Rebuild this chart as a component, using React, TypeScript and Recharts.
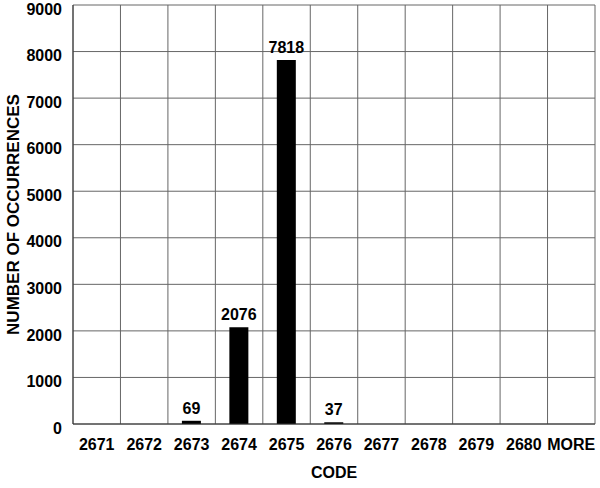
import { BarChart, Bar, XAxis, YAxis, CartesianGrid, LabelList } from 'recharts'

const codes = ['2671', '2672', '2673', '2674', '2675', '2676', '2677', '2678', '2679', '2680', 'MORE']
const counts = [0, 0, 69, 2076, 7818, 37, 0, 0, 0, 0, 0]
const yTicks = [0, 1000, 2000, 3000, 4000, 5000, 6000, 7000, 8000, 9000]

const data = codes.map((code, i) => ({ code, count: counts[i] }))

const font = '"Liberation Sans", Arial, sans-serif'
const gridColor = '#666'
const axisColor = '#333'
const txt = { fill: '#000', fontSize: 16, fontWeight: 'bold', fontFamily: font }

export default function App() {
  return (
    <div style={{ position: 'absolute', left: 0, top: 0, width: 600, height: 488, background: '#fff' }}>
      <BarChart width={600} height={488} data={data} margin={{ top: 5, right: 5, bottom: 10, left: 0 }}>
        <CartesianGrid
          stroke={gridColor}
          strokeWidth={1}
          verticalCoordinatesGenerator={({ offset }: any) =>
            codes.map((_, i) => offset.left + (i * offset.width) / codes.length).concat(offset.left + offset.width)
          }
        />
        <XAxis
          dataKey="code"
          tickLine={false}
          axisLine={{ stroke: axisColor }}
          tickSize={0}
          tickMargin={15}
          height={54}
          fontSize={16}
          fontWeight="bold"
          fontFamily={font}
          tick={txt}
          label={{ value: 'CODE', position: 'insideBottom', offset: 0, ...txt }}
          interval={0}
        />
        <YAxis
          domain={[0, 9000]}
          ticks={yTicks}
          width={73}
          tickLine={false}
          axisLine={{ stroke: axisColor }}
          tickSize={0}
          tickMargin={11}
          fontSize={16}
          fontWeight="bold"
          fontFamily={font}
          tick={{ ...txt, dy: 4 }}
          label={{ value: 'NUMBER OF OCCURRENCES', angle: -90, position: 'insideLeft', offset: 13, ...txt, fontSize: 17, style: { textAnchor: 'middle' } }}
          interval={0}
        />
        <Bar dataKey="count" fill="#000" barSize={19} isAnimationActive={false}>
          <LabelList
            dataKey="count"
            position="top"
            offset={7}
            formatter={(v: any) => (v ? String(v) : '')}
            style={txt}
          />
        </Bar>
      </BarChart>
    </div>
  )
}
